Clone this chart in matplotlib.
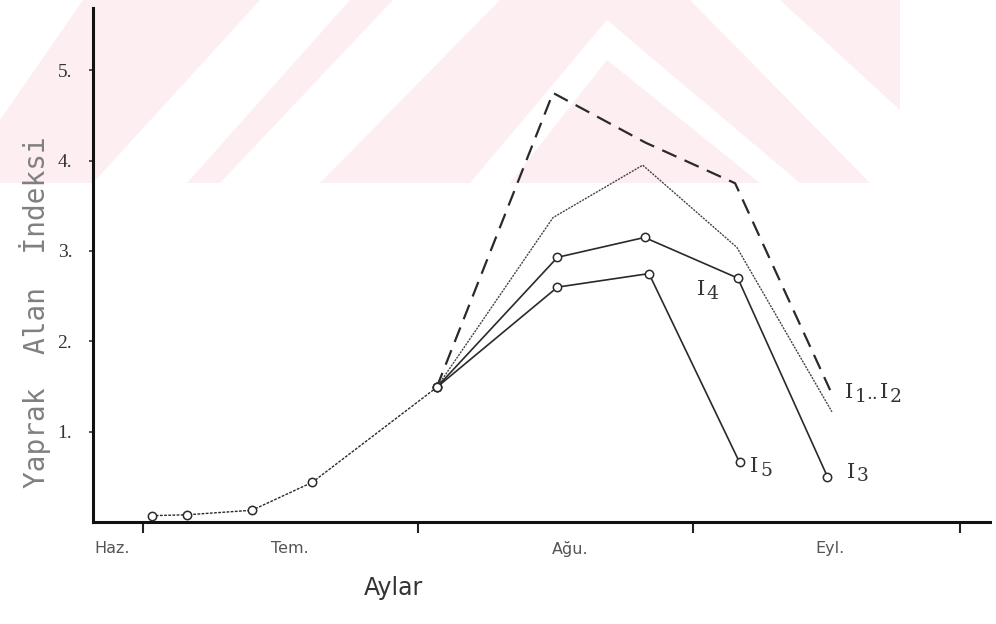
import matplotlib
matplotlib.use("Agg")
import matplotlib.pyplot as plt
from matplotlib.patches import Polygon

# ---------------- data (x = days after 1 July, y = leaf area index) ----------------
x_common = [1.0, 5.0, 12.3, 19.1, 33.1]
y_common = [0.07, 0.08, 0.13, 0.44, 1.49]

x_i1 = [33.1, 46.2, 56.6, 66.7, 77.4]
y_i1 = [1.49, 4.75, 4.20, 3.75, 1.46]

x_i2 = [33.1, 46.2, 56.3, 66.9, 77.6]
y_i2 = [1.49, 3.37, 3.95, 3.04, 1.22]

x_i3 = [33.1, 46.7, 56.5, 67.0, 77.1]
y_i3 = [1.49, 2.93, 3.15, 2.70, 0.50]

x_i5 = [33.1, 46.7, 57.0, 67.2]
y_i5 = [1.49, 2.60, 2.75, 0.66]

month_ticks = [0, 31, 62, 92]
month_label_pos = [-3.4, 16.6, 48.1, 77.4]
month_labels = ["Haz.", "Tem.", "Ağu.", "Eyl."]
y_ticks = [1, 2, 3, 4, 5]

W, H = 996, 624
fig = plt.figure(figsize=(W / 100, H / 100), dpi=100)
fig.patch.set_facecolor("white")

# faint scan watermark (decorative background)
def P(pts):
    return [(x / W, 1 - y / H) for x, y in pts]

pink = "#fdeef1"
fig.patches.append(Polygon(P([(0, 0), (900, 0), (900, 183), (0, 183)]), closed=True,
                           transform=fig.transFigure, facecolor=pink, edgecolor="none", zorder=0))
white_polys = [
    [(0, 0), (83, 0), (0, 120)],
    [(93, 183), (187, 183), (350, 0), (260, 0)],
    [(220, 183), (320, 183), (500, 0), (393, 0)],
    [(470, 183), (607, 20), (800, 183), (760, 183), (607, 60), (510, 183)],
    [(690, 0), (780, 0), (900, 110), (900, 183), (870, 183)],
    [(900, 0), (996, 0), (996, 183), (900, 183)],
]
for wp in white_polys:
    fig.patches.append(Polygon(P(wp), closed=True, transform=fig.transFigure,
                               facecolor="white", edgecolor="none", zorder=0.1))

ax = fig.add_axes([93 / W, 1 - 522 / H, (990 - 93) / W, (522 - 8) / H])
ax.set_zorder(2)
ax.set_facecolor("none")
ax.set_xlim(-5.6, 95.4)
ax.set_ylim(0, 5.69)

for s in ["top", "right"]:
    ax.spines[s].set_visible(False)
ax.spines["left"].set_linewidth(2.2)
ax.spines["bottom"].set_linewidth(2.2)
ax.spines["left"].set_color("#111111")
ax.spines["bottom"].set_color("#111111")

lc = "#2a2a2a"
mk = dict(marker="o", markersize=6, markerfacecolor="white", markeredgecolor=lc, markeredgewidth=1.1)

ax.plot(x_i1, y_i1, color=lc, lw=1.6, ls=(0, (7, 4)), zorder=3)
ax.plot(x_i2, y_i2, color="#444444", lw=1.0, ls=(0, (1.5, 0.8)), zorder=3)
ax.plot(x_i3, y_i3, color=lc, lw=1.2, zorder=3, **mk)
ax.plot(x_i5, y_i5, color=lc, lw=1.2, zorder=3, **mk)
ax.plot(x_common, y_common, color=lc, lw=1.0, ls=(0, (2, 1)), zorder=4, **mk)

# axes ticks
ax.set_xticks(month_ticks)
ax.set_xticklabels([])
ax.tick_params(axis="x", which="major", direction="out", length=8, width=1.5, color="#222222")
ax.set_xticks(month_label_pos, minor=True)
ax.set_xticklabels(month_labels, minor=True, fontsize=11.5, color="#555555",
                   family="DejaVu Sans")
ax.tick_params(axis="x", which="minor", length=0, pad=14)

ax.set_yticks(y_ticks)
ax.set_yticklabels([f"{v}." for v in y_ticks], fontsize=14, color="#333333",
                   family="Liberation Serif")
ax.tick_params(axis="y", direction="out", length=3, width=1.2, pad=12, color="#333333")

fig.text(35 / W, 1 - 312 / H, "Yaprak  Alan  İndeksi", rotation=90, ha="center", va="center",
         fontsize=20, color="#808080", family="DejaVu Sans Mono")
fig.text(393 / W, 1 - 588 / H, "Aylar", ha="center", va="center", fontsize=17,
         color="#333333", family="DejaVu Sans")

# curve labels: "I" with a slightly lowered digit
def curve_label(x, y, pieces):
    for txt, dx, dy in pieces:
        ax.annotate(txt, xy=(x, y), xytext=(dx, dy), textcoords="offset points",
                    fontsize=15 if txt == "I" else 13.5, color="#333333",
                    family="DejaVu Serif", va="center", ha="left")

curve_label(79.1, 1.43, [("I", 0, 0), ("1", 7, -3), ("..", 15, -1), ("I", 25, 0), ("2", 32, -3)])
curve_label(79.3, 0.55, [("I", 0, 0), ("3", 7, -3)])
curve_label(62.4, 2.57, [("I", 0, 0), ("4", 7, -3)])
curve_label(68.4, 0.61, [("I", 0, 0), ("5", 7, -3)])

fig.savefig("out.png", dpi=100, facecolor="white")
